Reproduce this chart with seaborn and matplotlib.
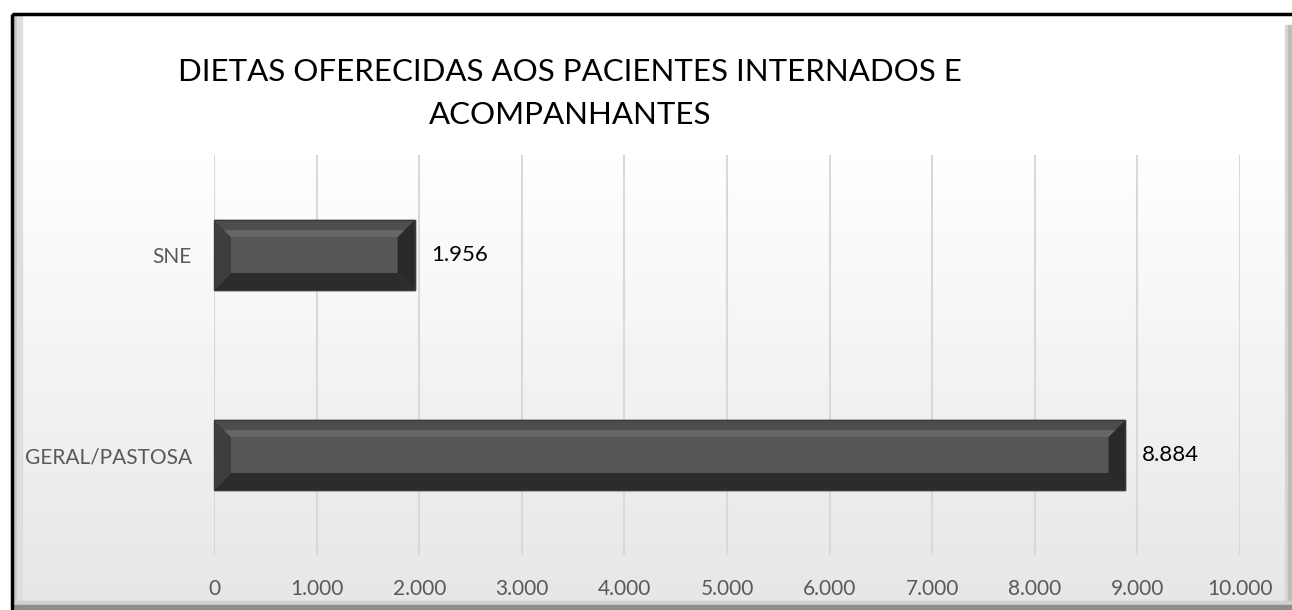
import numpy as np
import matplotlib
matplotlib.use("Agg")
from matplotlib import pyplot as plt
from matplotlib.patches import Rectangle, Polygon
import seaborn as sns

# Data
categories = ['SNE', 'GERAL/PASTOSA']
values = [1956, 8884]
x_ticks = [0, 1000, 2000, 3000, 4000, 5000, 6000, 7000, 8000, 9000, 10000]
title_lines = ['DIETAS OFERECIDAS AOS PACIENTES INTERNADOS E', 'ACOMPANHANTES']

sns.set_style('white')
plt.rcParams['font.family'] = ['Lato', 'DejaVu Sans']

W, H = 1292, 610
fig = plt.figure(figsize=(W / 100, H / 100), dpi=100)

# background gradient (whole chart area)
bg = fig.add_axes([0, 0, 1, 1], zorder=-5)
grad = np.concatenate([np.ones(140) * 1.0, np.linspace(1.0, 0.90, H - 140)])
bg.imshow(np.tile(grad[:, None], (1, 10)), cmap='gray', vmin=0, vmax=1,
          aspect='auto', extent=[0, W, H, 0])
bg.set_xlim(0, W)
bg.set_ylim(H, 0)
bg.axis('off')
# white area outside the frame
bg.add_patch(Rectangle((0, 0), W, 13, color='white', zorder=1))
bg.add_patch(Rectangle((0, 0), 11, H, color='white', zorder=1))
# frame bevel
bg.add_patch(Rectangle((13, 15), 4, H, color='#c8c8c8', zorder=2))
bg.add_patch(Rectangle((17, 15), 5, H, color='#dedede', zorder=2))
bg.add_patch(Rectangle((1285, 25), 3, H, color='#d6d6d6', zorder=2))
bg.add_patch(Rectangle((1288, 25), 5, H, color='#bdbdbd', zorder=2))
bg.add_patch(Rectangle((13, 601), W, 4, color='#cfcfcf', zorder=2))
bg.add_patch(Rectangle((13, 605), W, 6, color='#8c8c8c', zorder=2))
bg.add_patch(Rectangle((11.5, 13.5), W + 10, H + 10, fill=False, lw=2.5,
                       edgecolor='black', zorder=3))

ax = fig.add_axes([214 / W, 1 - 555 / H, 1026 / W, 400 / H])
ax.set_facecolor('none')
sns.barplot(x=values, y=categories, orient='h', width=0.35, color='#565656',
            saturation=1, edgecolor='#3a3a3a', linewidth=1, ax=ax, zorder=3)

ax.set_xlim(0, 10000)
ax.set_xticks(x_ticks)
ax.set_xticklabels([f'{v:,}'.replace(',', '.') for v in x_ticks])
ax.xaxis.grid(True, color='#d9d9d9', linewidth=1.5)
ax.set_axisbelow(True)
for s in ax.spines.values():
    s.set_visible(False)
ax.tick_params(axis='x', length=0, pad=17, labelsize=15, labelcolor='#595959')
ax.tick_params(axis='y', length=0, pad=16, labelsize=15, labelcolor='#595959')
ax.set_xlabel('')
ax.set_ylabel('')

# bevel on bars
to_fig = fig.transFigure.inverted()
d = 17
for p in ax.patches:
    b = p.get_bbox()
    (x0, y0), (x1, y1) = ax.transData.transform([[b.x0, b.y0], [b.x1, b.y1]])
    lo, hi = min(y0, y1), max(y0, y1)
    outer = [(x0, lo), (x1, lo), (x1, hi), (x0, hi)]
    inner = [(x0 + d, lo + d), (x1 - d, lo + d), (x1 - d, hi - d), (x0 + d, hi - d)]
    sides = [
        ([outer[3], outer[2], inner[2], inner[3]], '#4d4d4d'),  # top
        ([outer[0], outer[1], inner[1], inner[0]], '#2c2c2c'),  # bottom
        ([outer[0], outer[3], inner[3], inner[0]], '#3e3e3e'),  # left
        ([outer[1], outer[2], inner[2], inner[1]], '#292929'),  # right
    ]
    for pts, c in sides:
        fig.patches.append(Polygon(to_fig.transform(pts), closed=True,
                                   transform=fig.transFigure, facecolor=c,
                                   edgecolor='none', zorder=4))
    # lighter stripe in top bevel
    sy = hi - d * 0.6
    stripe = [(x0 + d * 0.6, sy), (x1 - d * 0.6, sy),
              (x1 - d, hi - d), (x0 + d, hi - d)]
    fig.patches.append(Polygon(to_fig.transform(stripe), closed=True,
                               transform=fig.transFigure, facecolor='#676767',
                               edgecolor='none', zorder=4))
    fig.patches.append(Polygon(to_fig.transform(outer), closed=True, fill=False,
                               transform=fig.transFigure, edgecolor='#3a3a3a',
                               lw=1, zorder=5))

ax.bar_label(ax.containers[0],
             labels=[f'{v:,}'.replace(',', '.') for v in values],
             padding=12, fontsize=16, color='black')

fig.text(570 / W, 1 - 81 / H, title_lines[0], ha='center', va='baseline',
         fontsize=22.5, color='black')
fig.text(570 / W, 1 - 124 / H, title_lines[1], ha='center', va='baseline',
         fontsize=22.5, color='black')

fig.savefig('out.png', dpi=100)
